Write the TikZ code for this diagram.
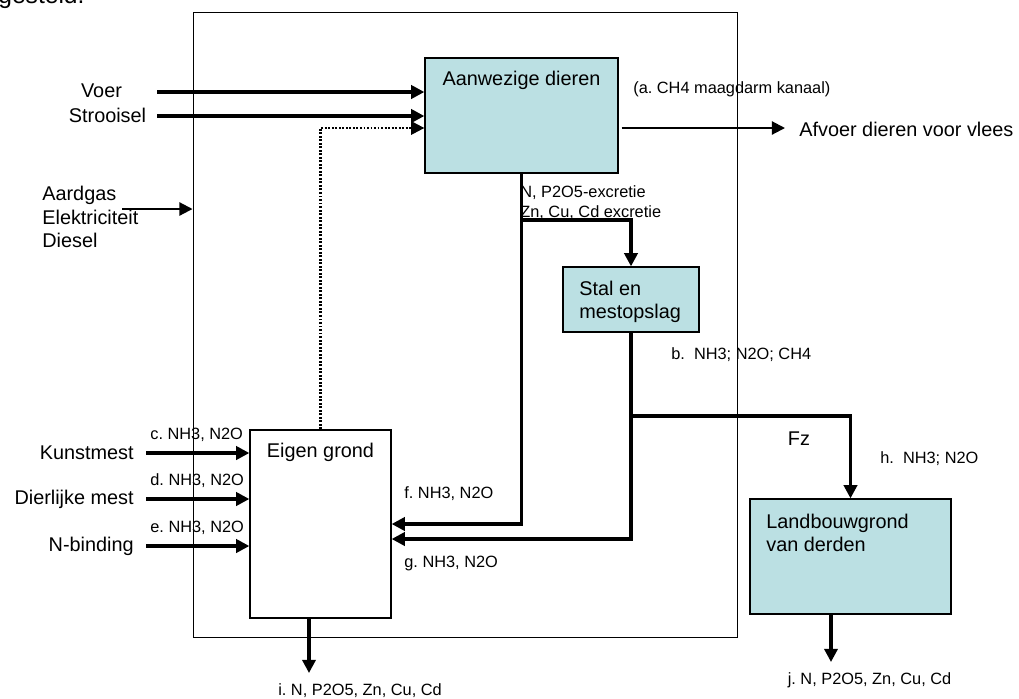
\documentclass[tikz,border=0pt]{standalone}
\usepackage{fontspec}
\setmainfont{Liberation Sans}
\usetikzlibrary{arrows.meta,calc,positioning}
\definecolor{boxteal}{RGB}{187,224,227}
\tikzset{box/.style={draw,line width=0.75pt,fill=boxteal,inner sep=0pt},
  plainbox/.style={box,fill=white},
  arr/.style={-{Triangle[length=7.5pt,width=7.5pt]},line width=1.8pt},
  thinarr/.style={arr,line width=1.2pt},
  dotarr/.style={arr,line width=1.3pt,dash pattern=on 1.1pt off 0.9pt},
  big/.style={font=\fontsize{11.3}{13.4}\selectfont,inner sep=0pt},
  small/.style={font=\fontsize{9.3}{11.3}\selectfont,inner sep=0pt}}
\frenchspacing

\begin{document}
\begin{tikzpicture}[x=0.02cm,y=-0.02cm]
\useasboundingbox (0,0) rectangle (1019,698);
\clip (0,0) rectangle (1019,698);
\node[anchor=base west,inner sep=0pt,font=\fontsize{14}{16}\selectfont] (head) at (-2,3.5) {gesteld.};
\node[draw,line width=0.6pt,minimum width=10.9cm,minimum height=12.52cm] (frame) at (465.5,325) {};

\node[box,minimum width=3.86cm,minimum height=2.3cm] (dieren) at (521.5,115.5) {};
\node[box,minimum width=2.72cm,minimum height=1.3cm] (stal) at (631,299.5) {};
\node[plainbox,minimum width=2.82cm,minimum height=3.76cm] (eigen) at (320.5,524) {};
\node[box,minimum width=4.02cm,minimum height=2.3cm] (derden) at (850.5,556.5) {};
\node[big] (dierentxt) at (521.5,80.5) {Aanwezige dieren};
\node[big,anchor=west,align=left] (staltxt) at (579,302) {Stal en\\mestopslag};
\node[big] (eigentxt) at (320.5,452) {Eigen grond};
\node[big,anchor=west,align=left] (derdentxt) at (766,533) {Landbouwgrond\\van derden};

\node[big] (voer) at (101.5,91) {Voer};
\node[big] (strooisel) at (107.5,115) {Strooisel};
\node[big,anchor=west,align=left] (energie) at (42,217) {Aardgas\\Elektriciteit\\Diesel};
\coordinate (voerin) at (157,92);
\coordinate (strooiin) at (157,116);
\coordinate (energiein) at (122,209);
\draw[arr] (voerin) -- (voerin -| dieren.west);
\draw[arr] (strooiin) -- (strooiin -| dieren.west);
\draw[thinarr] (energiein) -- (energiein -| frame.west);

\foreach \nm/\txt/\lt/\y in {kunst/Kunstmest/c/453,dier/Dierlijke mest/d/499,binding/N-binding/e/546}{
  \node[big,anchor=east] (\nm) at (134,\y) {\txt};
  \node[small,anchor=west] (\nm lab) at (150,\y-18) {\lt. NH3, N2O};
  \coordinate (\nm in) at (146,\y);
  \draw[arr] (\nm in) -- (\nm in -| eigen.west);
}

\draw[dotarr] (eigen.north) |- ($(dieren.west)+(0,12.5)$);

\node[big,anchor=west] (afvoer) at (799,129) {Afvoer dieren voor vlees};
\coordinate (afvoeruit) at ($(dieren.east)+(3,12.5)$);
\draw[thinarr] (afvoeruit) -- ($(afvoeruit -| afvoer.west)+(-14,0)$);
\node[small,anchor=west] (ch4) at (633,89) {(a. CH4 maagdarm kanaal)};

\draw[arr] (dieren.south) |- (eigen.east);
\coordinate (split) at (dieren.south |- 0,220);
\draw[arr] (split) -| (stal.north);
\node[small,anchor=west,align=left] (excretie) at (520,203) {N, P2O5-excretie\\Zn, Cu, Cd excretie};

\draw[arr] (stal.south) |- ($(eigen.east)+(0,15)$);
\coordinate (fork) at (stal.south |- 0,416);
\draw[arr] (fork) -| (derden.north);
\node[small,anchor=west] (blab) at (671,355) {b.\ \ NH3; N2O; CH4};
\node[big] (fz) at (799,439) {Fz};
\node[small,anchor=west] (hlab) at (880,459) {h.\ \ NH3; N2O};
\node[small,anchor=west] (flab) at (404,494) {f. NH3, N2O};
\node[small,anchor=west] (glab) at (404,563) {g. NH3, N2O};

\coordinate (iout) at (309,673);
\draw[arr] (iout |- eigen.south) -- (iout);
\node[small] (ilab) at (360,691) {i. N, P2O5, Zn, Cu, Cd};
\coordinate (jout) at (831,662);
\draw[arr] (jout |- derden.south) -- (jout);
\node[small] (jlab) at (869.5,680) {j. N, P2O5, Zn, Cu, Cd};
\end{tikzpicture}
\end{document}
